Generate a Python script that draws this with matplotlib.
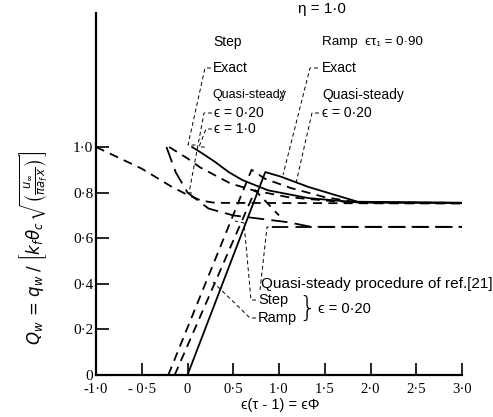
import matplotlib
matplotlib.use("Agg")
import matplotlib.pyplot as plt

# ---------------- data ----------------
x_ticks = [-1.0, -0.5, 0.0, 0.5, 1.0, 1.5, 2.0, 2.5, 3.0]
x_labels = ["-1·0", "- 0·5", "0", "0·5", "1·0", "1·5", "2·0", "2·5", "3·0"]
y_ticks = [0.0, 0.2, 0.4, 0.6, 0.8, 1.0]
y_labels = ["0", "0·2", "0·4", "0·6", "0·8", "1·0"]

# Step, exact (solid)
step_exact_x = [0.05, 0.15, 0.30, 0.45, 0.60, 0.88, 1.32, 1.86, 3.0]
step_exact_y = [1.00, 0.975, 0.935, 0.89, 0.855, 0.81, 0.776, 0.757, 0.755]
# Step, quasi-steady eps = 0.20 (dashed)
step_qs020_x = [-1.0, -0.5, -0.17, 0.0, 0.15, 0.30, 3.0]
step_qs020_y = [1.00, 0.905, 0.825, 0.79, 0.765, 0.755, 0.752]
# Step, quasi-steady eps = 1.0 (dashed)
step_qs10_x = [-0.20, 0.0, 0.14, 0.47, 0.72, 1.10, 1.60, 2.0, 3.0]
step_qs10_y = [1.00, 0.95, 0.91, 0.84, 0.81, 0.78, 0.762, 0.755, 0.755]
# long-dashed decay curve
long_x = [-0.23, -0.13, 0.0, 0.23, 0.50, 0.80, 1.10, 1.35, 3.0]
long_y = [1.00, 0.89, 0.80, 0.73, 0.70, 0.685, 0.67, 0.65, 0.65]
# Ramp, exact (solid)
ramp_exact_x = [0.0, 0.85, 1.02, 1.32, 1.61, 1.86, 3.0]
ramp_exact_y = [0.0, 0.89, 0.87, 0.825, 0.79, 0.76, 0.755]
# Ramp, quasi-steady eps = 0.20 (dashed)
ramp_qs_x = [-0.21, 0.70, 0.85, 1.13, 1.50, 1.86, 3.0]
ramp_qs_y = [0.0, 0.90, 0.86, 0.82, 0.78, 0.757, 0.755]
# Quasi-steady procedure of ref.[21]
ref_ramp_x = [-0.14, 0.74, 1.00]
ref_ramp_y = [0.0, 0.81, 0.70]
ref_step_x = [0.92, 3.0]
ref_step_y = [0.65, 0.65]

# ---------------- figure ----------------
W, H = 493, 417
fig = plt.figure(figsize=(W / 100, H / 100), dpi=100)
x0, x1 = 96, 462
y0, ytop = 375, 13
ax = fig.add_axes([x0 / W, 1 - y0 / H, (x1 - x0) / W, (y0 - ytop) / H])
ymax = (y0 - ytop) / 228.0
ax.set_xlim(-1.0, 3.0)
ax.set_ylim(0, ymax)

for s in ["top", "right"]:
    ax.spines[s].set_visible(False)
for s in ["left", "bottom"]:
    ax.spines[s].set_linewidth(1.6)

serif = ["Liberation Serif", "DejaVu Serif"]
narrow = ["Liberation Sans", "DejaVu Sans"]

ax.set_xticks(x_ticks)
ax.set_xticklabels(x_labels, family=serif, fontsize=10.5)
ax.set_yticks(y_ticks)
ax.set_yticklabels(y_labels, family=serif, fontsize=11)
ax.tick_params(axis="both", direction="in", length=9, width=1.2, color="black")
ax.tick_params(axis="x", pad=6)
ax.tick_params(axis="y", pad=2)

lw = 1.3
ax.plot(step_exact_x, step_exact_y, color="black", lw=lw)
ax.plot(ramp_exact_x, ramp_exact_y, color="black", lw=lw)
ax.plot(step_qs020_x, step_qs020_y, color="black", lw=lw, dashes=(5, 3.5))
ax.plot(step_qs10_x, step_qs10_y, color="black", lw=lw, dashes=(5, 3.5))
ax.plot(long_x, long_y, color="black", lw=lw, dashes=(9, 4))
ax.plot(ramp_qs_x, ramp_qs_y, color="black", lw=lw, dashes=(5, 3.5))
ax.plot(ref_ramp_x, ref_ramp_y, color="black", lw=lw, dashes=(5, 3.5))
ax.plot(ref_step_x, ref_step_y, color="black", lw=lw, dashes=(9, 4))


# ---------------- annotations (pixel positions -> data) ----------------
def d(px, py):
    return ((px - 187.5) / 91.5, (375 - py) / 228.0)


def leader(pts):
    xs, ys = zip(*[d(*p) for p in pts])
    ax.plot(xs, ys, color="black", lw=0.7, dashes=(4, 3), clip_on=False)


def txt(px, py, s, size=10, **kw):
    x, y = d(px, py)
    ax.text(x, y, s, fontsize=size, family=narrow, va="center", ha="left",
            clip_on=False, **kw)


txt(298, 9, "η = 1·0", size=11)
txt(213, 42, "Step")
txt(322, 42, "Ramp  ϵτ₁ = 0·90", size=9.6)
txt(213, 68, "Exact")
txt(212, 95, "Quasi-steady", size=9)
txt(214, 113, "ϵ = 0·20")
txt(214, 129, "ϵ = 1·0")
txt(322, 68, "Exact")
txt(322, 95, "Quasi-steady")
txt(322, 113, "ϵ = 0·20")

leader([(211, 68), (205, 68), (188, 145), (197, 145)])
leader([(212, 113), (204, 113), (189, 193), (195, 193)])
leader([(212, 129), (206, 129), (199, 147), (207, 147)])
leader([(284, 90), (279, 101)])
leader([(318, 68), (310, 68), (283, 175)])
leader([(319, 113), (312, 113), (296, 183)])

txt(261, 284, "Quasi-steady procedure of ref.[21]", size=11)
txt(258, 300, "Step", size=10.5)
txt(258, 318, "Ramp", size=10.5)
txt(318, 309, "ϵ = 0·20", size=10.5)
bx, by = d(307, 309)
ax.text(bx, by, "}", fontsize=20, family=["DejaVu Sans"], va="center",
        ha="center", clip_on=False, fontweight="light")
leader([(260, 290), (267, 227), (273, 227)])
leader([(256, 300), (251, 300), (244, 223), (235, 221)])
leader([(256, 318), (250, 318), (213, 282)])

# axis labels
xl, yl = d(280, 405)
ax.text(xl, yl, "ϵ(τ - 1) = ϵΦ", fontsize=10.5, family=narrow, ha="center",
        va="center", clip_on=False)
fig.text(34 / W, 1 - 248 / H,
         r"$Q_w\,=\,q_w\;/\;\left[k_f\theta_c\,\sqrt{\left(\frac{u_\infty}{\pi a_f\,x}\right)}\right]$",
         rotation=90, fontsize=12, ha="center", va="center")

fig.savefig("out.png", dpi=100, facecolor="white")
